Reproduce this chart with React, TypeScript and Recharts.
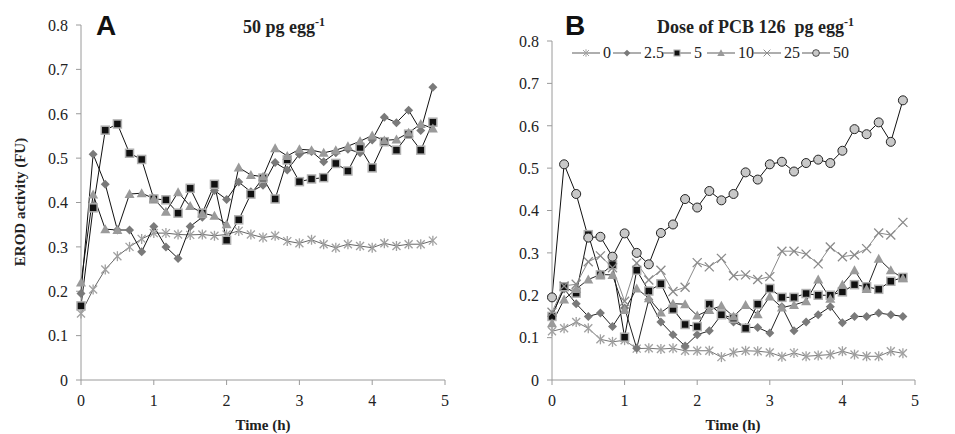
import { Legend, Line, LineChart, XAxis, YAxis } from "recharts";

// sampling times, minutes after injection
const minutes = [
  0, 10, 20, 30, 40, 50, 60, 70, 80, 90, 100, 110, 120, 130, 140, 150, 160,
  170, 180, 190, 200, 210, 220, 230, 240, 250, 260, 270, 280, 290,
];

// panel A: 50 pg egg-1
const aStar = [0.150, 0.204, 0.249, 0.279, 0.300, 0.318, 0.331, 0.331, 0.328, 0.327, 0.328, 0.325, 0.328, 0.336, 0.328, 0.321, 0.325, 0.313, 0.308, 0.316, 0.306, 0.298, 0.306, 0.302, 0.298, 0.308, 0.302, 0.306, 0.306, 0.314];
const aDiamond = [0.195, 0.509, 0.441, 0.338, 0.338, 0.289, 0.346, 0.300, 0.274, 0.346, 0.367, 0.427, 0.407, 0.446, 0.424, 0.439, 0.490, 0.473, 0.509, 0.515, 0.492, 0.512, 0.520, 0.512, 0.541, 0.592, 0.580, 0.608, 0.562, 0.660];
const aSquare = [0.167, 0.388, 0.563, 0.577, 0.511, 0.497, 0.408, 0.406, 0.376, 0.432, 0.376, 0.441, 0.315, 0.361, 0.419, 0.455, 0.408, 0.496, 0.447, 0.453, 0.456, 0.488, 0.471, 0.524, 0.478, 0.537, 0.518, 0.554, 0.518, 0.581];
const aTriangle = [0.220, 0.418, 0.340, 0.338, 0.419, 0.421, 0.409, 0.379, 0.423, 0.392, 0.376, 0.370, 0.351, 0.479, 0.462, 0.458, 0.522, 0.505, 0.520, 0.518, 0.512, 0.518, 0.527, 0.538, 0.551, 0.540, 0.542, 0.557, 0.577, 0.567];

// panel B: dose of PCB 126
const dose0 = [0.115, 0.122, 0.137, 0.122, 0.096, 0.090, 0.094, 0.074, 0.075, 0.073, 0.075, 0.069, 0.069, 0.069, 0.054, 0.065, 0.069, 0.068, 0.065, 0.055, 0.064, 0.056, 0.058, 0.060, 0.068, 0.060, 0.056, 0.056, 0.068, 0.063];
const dose2_5 = [0.154, 0.215, 0.180, 0.150, 0.158, 0.126, 0.170, 0.075, 0.190, 0.137, 0.107, 0.080, 0.107, 0.116, 0.154, 0.137, 0.124, 0.124, 0.111, 0.173, 0.116, 0.137, 0.154, 0.173, 0.135, 0.150, 0.150, 0.158, 0.154, 0.150];
const dose5 = [0.150, 0.220, 0.205, 0.343, 0.248, 0.272, 0.101, 0.259, 0.210, 0.227, 0.167, 0.131, 0.126, 0.179, 0.154, 0.146, 0.122, 0.179, 0.216, 0.195, 0.195, 0.204, 0.200, 0.200, 0.208, 0.225, 0.220, 0.214, 0.233, 0.242];
const dose10 = [0.134, 0.190, 0.215, 0.237, 0.249, 0.248, 0.165, 0.216, 0.193, 0.159, 0.180, 0.179, 0.152, 0.165, 0.175, 0.150, 0.177, 0.155, 0.197, 0.171, 0.177, 0.186, 0.237, 0.192, 0.225, 0.259, 0.215, 0.286, 0.259, 0.240];
const dose25 = [0.160, 0.222, 0.226, 0.279, 0.293, 0.265, 0.186, 0.276, 0.236, 0.259, 0.209, 0.219, 0.277, 0.267, 0.287, 0.246, 0.248, 0.237, 0.244, 0.304, 0.304, 0.297, 0.274, 0.314, 0.291, 0.295, 0.310, 0.347, 0.342, 0.372];
const dose50 = [0.195, 0.509, 0.439, 0.336, 0.338, 0.291, 0.346, 0.300, 0.273, 0.347, 0.367, 0.427, 0.407, 0.446, 0.424, 0.439, 0.490, 0.473, 0.509, 0.515, 0.492, 0.512, 0.520, 0.512, 0.541, 0.592, 0.580, 0.608, 0.562, 0.660];

const xTicks = [0, 1, 2, 3, 4, 5];
const yTicks = [0, 0.1, 0.2, 0.3, 0.4, 0.5, 0.6, 0.7, 0.8];

const SERIF = "Liberation Serif, Times New Roman, serif";
const SANS = "Liberation Sans, Arial, sans-serif";
const AXIS = "#9a9a9a";

type Shape = "star" | "diamond" | "square" | "triangle" | "cross" | "circle";

function Marker({ cx, cy, shape }: { cx: number; cy: number; shape: Shape }) {
  if (cx == null || cy == null) return null;
  switch (shape) {
    case "star": {
      const r = 4;
      return (
        <g stroke="#a0a0a0" strokeWidth={1.3}>
          <line x1={cx - r} y1={cy - r} x2={cx + r} y2={cy + r} />
          <line x1={cx - r} y1={cy + r} x2={cx + r} y2={cy - r} />
          <line x1={cx} y1={cy - r - 1} x2={cx} y2={cy + r + 1} />
        </g>
      );
    }
    case "diamond":
      return (
        <polygon
          points={`${cx},${cy - 4.5} ${cx + 4.5},${cy} ${cx},${cy + 4.5} ${cx - 4.5},${cy}`}
          fill="#7a7a7a"
        />
      );
    case "square":
      return (
        <rect x={cx - 4} y={cy - 4} width={8} height={8} fill="#111" stroke="#b0b0b0" strokeWidth={1.5} />
      );
    case "triangle":
      return (
        <polygon
          points={`${cx},${cy - 5} ${cx + 5},${cy + 4} ${cx - 5},${cy + 4}`}
          fill="#9a9a9a"
        />
      );
    case "cross": {
      const r = 4.5;
      return (
        <g stroke="#8a8a8a" strokeWidth={1.3}>
          <line x1={cx - r} y1={cy - r} x2={cx + r} y2={cy + r} />
          <line x1={cx - r} y1={cy + r} x2={cx + r} y2={cy - r} />
        </g>
      );
    }
    default:
      return <circle cx={cx} cy={cy} r={4.5} fill="#c8c8c8" stroke="#222" strokeWidth={1} />;
  }
}

type Series = { key: string; name: string; values: number[]; shape: Shape; stroke: string };

const seriesA: Series[] = [
  { key: "star", name: "star", values: aStar, shape: "star", stroke: "#666" },
  { key: "diamond", name: "diamond", values: aDiamond, shape: "diamond", stroke: "#111" },
  { key: "square", name: "square", values: aSquare, shape: "square", stroke: "#111" },
  { key: "triangle", name: "triangle", values: aTriangle, shape: "triangle", stroke: "#111" },
];

const seriesB: Series[] = [
  { key: "d0", name: "0", values: dose0, shape: "star", stroke: "#777" },
  { key: "d2_5", name: "2.5", values: dose2_5, shape: "diamond", stroke: "#222" },
  { key: "d5", name: "5", values: dose5, shape: "square", stroke: "#111" },
  { key: "d10", name: "10", values: dose10, shape: "triangle", stroke: "#222" },
  { key: "d25", name: "25", values: dose25, shape: "cross", stroke: "#8a8a8a" },
  { key: "d50", name: "50", values: dose50, shape: "circle", stroke: "#111" },
];

function buildRows(series: Series[]) {
  return minutes.map((m, i) => {
    const row: Record<string, number> = { t: m / 60 };
    series.forEach((s) => (row[s.key] = s.values[i]));
    return row;
  });
}

const rowsA = buildRows(seriesA);
const rowsB = buildRows(seriesB);

function LegendB() {
  const gaps = [0, 41, 91, 135, 181, 230];
  return (
    <svg width={300} height={16} style={{ display: "block", overflow: "visible" }}>
      {seriesB.map((s, i) => {
        const x = gaps[i];
        return (
          <g key={s.key}>
            <line x1={x} y1={8} x2={x + 28} y2={8} stroke="#777" strokeWidth={1.2} />
            <g transform={`translate(${x + 14},8) scale(0.75) translate(${-(x + 14)},-8)`}>
              <Marker cx={x + 14} cy={8} shape={s.shape} />
            </g>
            <text x={x + 31} y={13} fontFamily={SERIF} fontSize={16} fill="#222">
              {s.name}
            </text>
          </g>
        );
      })}
    </svg>
  );
}

function XTick(p: any) {
  return (
    <text x={p.x} y={p.y} dy="0.71em" textAnchor="middle" fontFamily={SERIF} fontSize={16} fill="#222">
      {p.payload.value}
    </text>
  );
}

function YTick(p: any) {
  const v = p.payload.value as number;
  return (
    <text x={p.x} y={p.y} dy="0.36em" textAnchor="end" fontFamily={SERIF} fontSize={16} fill="#222">
      {v === 0 ? "0" : v.toFixed(1)}
    </text>
  );
}

function Panel({
  rows,
  series,
  width,
  marginLeft,
  marginRight,
  legend,
}: {
  rows: Record<string, number>[];
  series: Series[];
  width: number;
  marginLeft: number;
  marginRight: number;
  legend?: boolean;
}) {
  return (
    <LineChart
      width={width}
      height={434}
      data={rows}
      margin={{ top: 25, right: marginRight, left: marginLeft, bottom: 24 }}
    >
      <XAxis
        dataKey="t"
        type="number"
        domain={[0, 5]}
        ticks={xTicks}
        height={30}
        stroke={AXIS}
        tickSize={5}
        tickMargin={10}
        tick={<XTick />}
      />
      <YAxis
        type="number"
        domain={[0, 0.8]}
        ticks={yTicks}
        width={40}
        stroke={AXIS}
        tickSize={5}
        tickMargin={8}
        tick={<YTick />}
      />
      {legend && (
        <Legend
          verticalAlign="top"
          align="left"
          content={() => <LegendB />}
          wrapperStyle={{ top: 45, left: 95, width: 320 }}
        />
      )}
      {series.map((s) => (
        <Line
          key={s.key}
          dataKey={s.key}
          name={s.name}
          type="linear"
          stroke={s.stroke}
          strokeWidth={1}
          isAnimationActive={false}
          dot={(p: any) => <Marker key={`${s.key}-${p.index}`} cx={p.cx} cy={p.cy} shape={s.shape} />}
          activeDot={false}
          legendType="none"
        />
      ))}
    </LineChart>
  );
}

export default function App() {
  return (
    <div style={{ position: "absolute", left: 0, top: 0, width: 955, height: 434, background: "#fff" }}>
      <div style={{ position: "absolute", left: 0, top: 0 }}>
        <Panel rows={rowsA} series={seriesA} width={477} marginLeft={41} marginRight={32} />
      </div>
      <div style={{ position: "absolute", left: 477, top: 0 }}>
        <Panel rows={rowsB} series={seriesB} width={478} marginLeft={35} marginRight={40} legend />
      </div>
      <svg
        width={955}
        height={434}
        style={{ position: "absolute", left: 0, top: 0, pointerEvents: "none" }}
      >
        <text
          x={20}
          y={202}
          transform="rotate(-90 20 202)"
          textAnchor="middle"
          dominantBaseline="central"
          fontFamily={SERIF}
          fontWeight="bold"
          fontSize={15}
          fill="#222"
        >
          EROD activity (FU)
        </text>
        <text x={263} y={430} textAnchor="middle" fontFamily={SERIF} fontWeight="bold" fontSize={15} fill="#222">
          Time (h)
        </text>
        <text x={733} y={430} textAnchor="middle" fontFamily={SERIF} fontWeight="bold" fontSize={15} fill="#222">
          Time (h)
        </text>
        <text x={96} y={35} fontFamily={SANS} fontWeight="bold" fontSize={28} fill="#111">
          A
        </text>
        <text x={565} y={35} fontFamily={SANS} fontWeight="bold" fontSize={28} fill="#111">
          B
        </text>
        <text x={243} y={33} fontFamily={SERIF} fontWeight="bold" fontSize={18} fill="#222">
          50 pg egg
          <tspan dy={-7} fontSize={12}>-1</tspan>
        </text>
        <text x={657} y={33} fontFamily={SERIF} fontWeight="bold" fontSize={18} fill="#222">
          Dose of PCB 126{"\u00a0\u00a0"}pg egg
          <tspan dy={-7} fontSize={12}>-1</tspan>
        </text>
      </svg>
    </div>
  );
}
